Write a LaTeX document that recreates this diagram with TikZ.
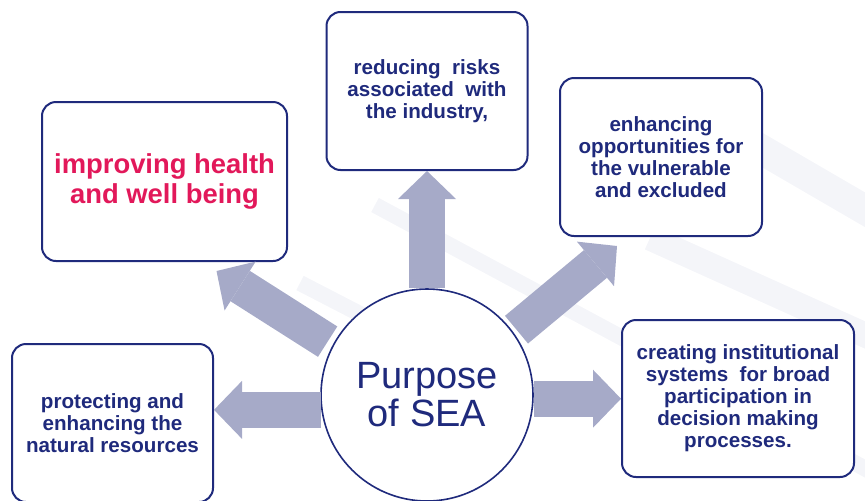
\documentclass[tikz,border=0pt]{standalone}
\usepackage{fontspec}
\setmainfont{Liberation Sans}
\usepackage{xcolor}
\usetikzlibrary{arrows.meta}

\begin{document}
\begin{tikzpicture}[x=0.5pt, y=0.5pt]
  % Colour definitions
  \definecolor{SEAnavy}{HTML}{1F2A7C}
  \definecolor{SEAred}{HTML}{E2185A}
  \definecolor{SEAarrow}{HTML}{A6AAC8}
  \definecolor{SEAband}{HTML}{F4F5F9}

  \tikzstyle{goal} = [draw=SEAnavy, fill=white, rounded corners=7pt,
    line width=1pt, align=center, text=SEAnavy,
    font=\fontsize{10.3}{11}\selectfont\bfseries]
  \tikzstyle{fat} = [line width=18pt, color=SEAarrow,
    -{Triangle[length=14pt, width=29pt, line width=0pt]}]
  \tikzstyle{band} = [line width=8pt, color=SEAband]

  \useasboundingbox (0,0) rectangle (865,500);
  \clip (0,0) rectangle (865,500);

  % Faint background bands
  \draw[band] (375,295) -- (905,10);
  \draw[band, line width=15pt] (745,360) -- (905,267);
  \draw[band, line width=12.5pt] (650,262) -- (905,147);
  \draw[band] (300,217) -- (420,155);

  % Centre
  \node[circle, draw=SEAnavy, fill=white, line width=0.8pt,
    minimum size=106pt, inner sep=0pt, align=center, text=SEAnavy,
    font=\fontsize{19}{19}\selectfont] (hub) at (427,105)
    {Purpose\\of SEA};

  % Purpose boxes
  \node[goal, minimum width=100.5pt, minimum height=79pt] (risk) at (427,409)
    {reducing\ \ risks\\associated\ \ with\\the industry,};
  \node[goal, minimum width=122.5pt, minimum height=79.5pt, text=SEAred,
    font=\fontsize{13.7}{15}\selectfont\bfseries] (health) at (164.5,318.5)
    {improving health\\and well being};
  \node[goal, minimum width=101pt, minimum height=79pt] (opps) at (661,343)
    {enhancing\\opportunities for\\the vulnerable\\and excluded};
  \node[goal, minimum width=100.5pt, minimum height=79pt] (natural) at (112.5,77)
    {protecting and\\enhancing the\\natural resources};
  \node[goal, minimum width=116pt, minimum height=78.5pt] (systems) at (738,101.5)
    {creating institutional\\systems\ \ for broad\\participation in\\decision making\\processes.};

  % Arrow tips below the diagonal boxes
  \coordinate (healthtip) at ([xshift=26pt, yshift=-4.5pt]health.south);
  \coordinate (oppstip) at ([xshift=-22pt, yshift=-4.5pt]opps.south);

  % Block arrows out of the centre
  \draw[fat] (hub) -- (risk);
  \draw[fat] (hub.188) -- (natural.east |- hub.188);
  \draw[fat] (hub.358) -- (systems.west |- hub.358);
  \draw[fat, shorten <=3pt] (hub.152) -- (healthtip);
  \draw[fat, shorten <=2pt] (hub.36) -- (oppstip);
\end{tikzpicture}
\end{document}
